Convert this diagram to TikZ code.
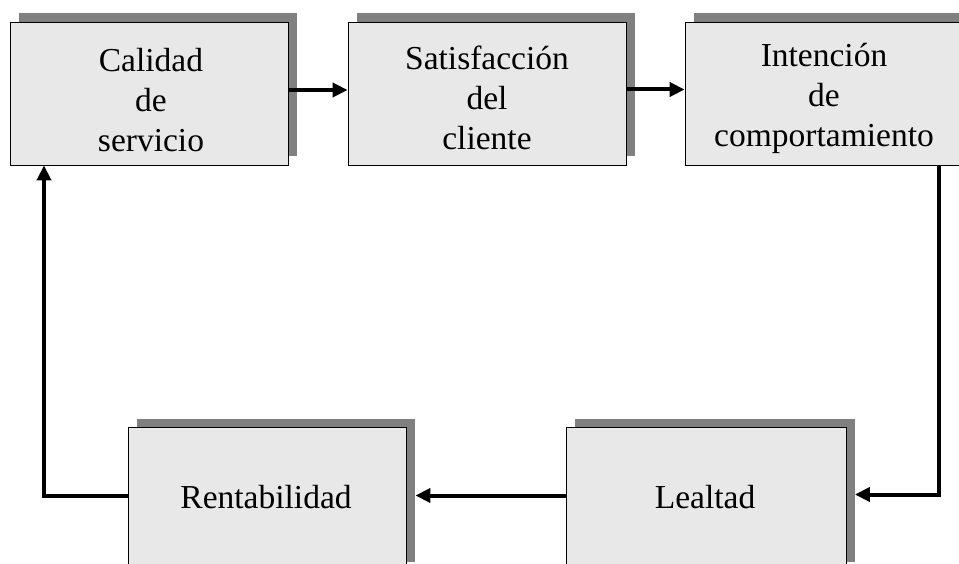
\documentclass[tikz,border=0pt]{standalone}
\usepackage{fontspec}
\setmainfont{Liberation Serif}
\usetikzlibrary{arrows.meta,shadows}
\definecolor{boxfill}{HTML}{E8E8E8}
\definecolor{shadowgray}{HTML}{808080}
\begin{document}
\begin{tikzpicture}[x=1pt,y=-1pt,
  box/.style={draw=black, line width=0.8pt, fill=boxfill,
    minimum width=278pt, minimum height=143pt, inner sep=0pt,
    copy shadow={shadow xshift=8.5pt, shadow yshift=8.5pt, fill=shadowgray, draw=none}},
  txt/.style={inner sep=0pt, align=center, font=\fontsize{33.5}{40}\selectfont},
  conn/.style={line width=4pt},
  arr/.style={conn, -{Triangle[length=15pt,width=14pt]}}]
\useasboundingbox (0,0) rectangle (959,564);
\clip (0,0) rectangle (959,564);
\node[box] (cal) at (149,93.5) {};
\node[box] (sat) at (487,93.5) {};
\node[box] (int) at (824,93.5) {};
\node[box] (ren) at (267,498.5) {};
\node[box, minimum width=280pt] (lea) at (706,498.5) {};
\node[txt] (calt) at (151,100) {Calidad\\de\\servicio};
\node[txt] (satt) at (487,98) {Satisfacción\\del\\cliente};
\node[txt] (intt) at (824,98) {Intención\\de\\comportamiento};
\node[txt] (rent) at (266,497) {Rentabilidad};
\node[txt] (leat) at (705,497) {Lealtad};
\draw[arr] ([yshift=3.5pt]cal.east) -- ([yshift=3.5pt]sat.west);
\draw[arr] ([yshift=4pt]sat.east) -- ([yshift=4pt]int.west);
\draw[arr] ([xshift=115pt]int.south) |- ([xshift=8.5pt,yshift=4pt]lea.east);
\draw[arr] ([yshift=3pt]lea.west) -- ([xshift=9pt,yshift=3pt]ren.east);
\draw[arr] ([yshift=3pt]ren.west) -| ([xshift=-105pt]cal.south);
\end{tikzpicture}
\end{document}
